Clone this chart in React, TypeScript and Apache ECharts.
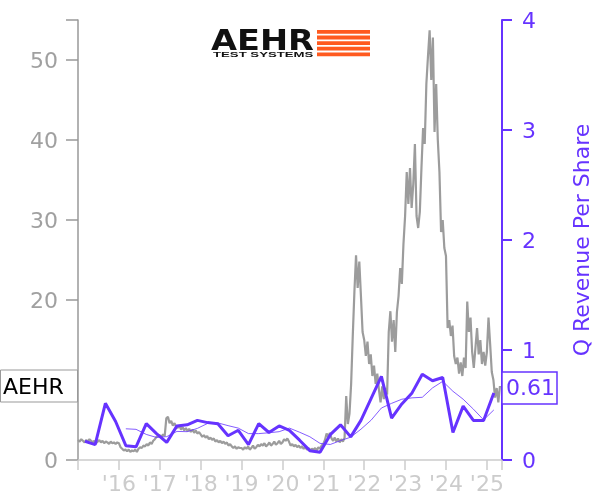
import React, { useEffect, useRef } from "react";
import * as echarts from "echarts";

// Closing price, sampled every 0.04 year, one array per calendar year
const price2015 = [2.5, 2.3, 2.6, 2.4, 2.2, 2.5, 2.3, 2.6, 2.4, 2.2, 2.4, 2.1, 2.3, 2.5, 2.2, 2.4, 2.1, 2.3, 2.2, 2.0, 2.3, 2.1, 2.2, 2.0, 2.2];
const price2016 = [2.1, 1.6, 1.4, 1.2, 1.3, 1.1, 1.3, 1.0, 1.2, 1.1, 1.3, 1.0, 1.4, 1.6, 1.5, 1.8, 1.7, 2.0, 1.8, 2.2, 2.0, 2.4, 2.6, 2.9, 3.0];
const price2017 = [3.1, 2.9, 3.2, 3.0, 5.2, 5.4, 4.6, 4.9, 4.3, 4.6, 4.2, 4.0, 4.3, 3.8, 4.1, 3.7, 4.0, 3.6, 3.9, 3.5, 3.8, 3.4, 3.7, 3.3, 3.5];
const price2018 = [3.2, 2.9, 3.1, 2.8, 3.0, 2.6, 2.8, 2.5, 2.7, 2.3, 2.5, 2.2, 2.4, 2.1, 2.3, 2.0, 2.2, 1.8, 2.0, 1.7, 1.5, 1.7, 1.4, 1.6, 1.5];
const price2019 = [1.5, 1.3, 1.6, 1.4, 1.7, 1.3, 1.5, 1.8, 1.4, 1.6, 1.9, 1.7, 2.0, 1.8, 2.1, 1.7, 1.9, 2.2, 1.8, 2.0, 2.3, 1.9, 2.1, 2.4, 2.0];
const price2020 = [2.2, 2.6, 2.4, 2.7, 2.3, 1.8, 2.0, 1.7, 1.9, 1.6, 1.8, 1.5, 1.7, 1.4, 1.6, 1.3, 1.5, 1.2, 1.4, 1.3, 1.5, 1.2, 1.6, 1.4, 1.8];
const price2021 = [2.0, 2.5, 3.3, 2.9, 3.4, 2.7, 2.4, 2.8, 2.3, 2.7, 2.2, 2.6, 2.3, 2.8, 8.0, 4.5, 5.8, 9.5, 15.5, 21.0, 25.6, 21.5, 24.8, 20.5, 16.0];
const price2022 = [15.0, 13.0, 14.8, 12.0, 13.2, 10.5, 11.8, 9.5, 10.8, 8.8, 7.2, 9.2, 7.6, 9.0, 8.2, 16.0, 18.6, 14.8, 17.5, 13.5, 18.5, 20.5, 24.0, 22.0, 27.0];
const price2023 = [30.5, 36.0, 32.0, 36.5, 31.5, 34.5, 39.5, 30.5, 29.0, 31.0, 36.5, 41.5, 39.5, 47.0, 50.5, 53.7, 47.5, 52.8, 41.0, 47.0, 40.0, 36.0, 28.5, 30.0, 26.5];
const price2024 = [25.5, 16.5, 17.5, 15.5, 16.8, 13.0, 12.0, 12.8, 10.8, 12.2, 10.5, 12.8, 11.5, 19.8, 16.0, 17.8, 13.5, 11.5, 14.0, 16.5, 13.2, 15.0, 12.0, 13.5, 11.8];
const price2025 = [13.5, 17.8, 14.5, 11.0, 10.0, 7.8, 9.0, 7.2, 9.25];
const priceYears = [2015, 2016, 2017, 2018, 2019, 2020, 2021, 2022, 2023, 2024, 2025];
const priceByYear = [price2015, price2016, price2017, price2018, price2019, price2020, price2021, price2022, price2023, price2024, price2025];
const PRICE_STEP = 0.04;

// Quarterly revenue per share, first quarter ending early 2015
const revStart = 2015.17;
const revenuePerShare = [
  0.17, 0.14, 0.515, 0.35, 0.13, 0.12, 0.33, 0.24, 0.16, 0.31,
  0.32, 0.36, 0.34, 0.33, 0.22, 0.27, 0.14, 0.33, 0.25, 0.31,
  0.27, 0.18, 0.085, 0.07, 0.23, 0.32, 0.21, 0.36, 0.56, 0.76,
  0.38, 0.51, 0.61, 0.78, 0.72, 0.75, 0.25, 0.49, 0.36, 0.36,
  0.61,
];

const xTickYears = [2016, 2017, 2018, 2019, 2020, 2021, 2022, 2023, 2024, 2025];
const leftTicks = [0, 20, 30, 40, 50]; // "10" sits under the ticker box
const rightTicks = [0, 1, 2, 3, 4];

const TICKER = "AEHR";
const PURPLE = "#6633ff";
const FONT = "DejaVu Sans";

export default function App() {
  const ref = useRef<HTMLDivElement>(null);
  useEffect(() => {
    if (!ref.current) return;
    const chart = echarts.init(ref.current, null, { renderer: "svg" });

    const priceData: number[][] = [];
    priceYears.forEach((y, k) => {
      priceByYear[k].forEach((v, i) => priceData.push([y + i * PRICE_STEP, v]));
    });
    const revData = revenuePerShare.map((v, i) => [revStart + i * 0.25, v]);
    const maData: number[][] = [];
    for (let i = 4; i < revenuePerShare.length; i++) {
      const s = revenuePerShare.slice(i - 3, i + 1).reduce((a, b) => a + b, 0) / 4;
      maData.push([revStart + i * 0.25, s]);
    }

    chart.setOption({
      animation: false,
      grid: { left: 78, right: 98, top: 20, bottom: 40 },
      xAxis: {
        type: "value",
        min: 2015,
        max: 2025.37,
        interval: 1,
        axisLine: { lineStyle: { color: "#cccccc", width: 1.5 } },
        axisTick: { length: 10, lineStyle: { color: "#cccccc", width: 1.5 } },
        splitLine: { show: false },
        axisLabel: {
          color: "#cccccc",
          fontSize: 22,
          fontFamily: FONT,
          margin: 12,
          formatter: (v: number) =>
            xTickYears.includes(v) ? "'" + String(v).slice(2) : "",
        },
      },
      yAxis: [
        {
          type: "value",
          min: 0,
          max: 55,
          interval: 10,
          position: "left",
          axisLine: { show: true, lineStyle: { color: "#999999", width: 1.5 } },
          axisTick: { show: true, length: 12, lineStyle: { color: "#999999", width: 1.5 } },
          splitLine: { show: false },
          axisLabel: {
            color: "#a0a0a0",
            fontSize: 22,
            fontFamily: FONT,
            margin: 20,
            formatter: (v: number) => (leftTicks.includes(v) ? String(v) : ""),
          },
        },
        {
          type: "value",
          min: 0,
          max: 4,
          interval: 1,
          position: "right",
          name: "Q Revenue Per Share",
          nameLocation: "middle",
          nameRotate: 90,
          nameGap: 68,
          nameTextStyle: { color: PURPLE, fontSize: 22, fontFamily: FONT },
          axisLine: { show: true, lineStyle: { color: PURPLE, width: 2 } },
          axisTick: { show: true, length: 10, lineStyle: { color: PURPLE, width: 2 } },
          splitLine: { show: false },
          axisLabel: {
            color: PURPLE,
            fontSize: 22,
            fontFamily: FONT,
            margin: 20,
            formatter: (v: number) => (rightTicks.includes(v) ? String(v) : ""),
          },
        },
      ],
      series: [
        {
          type: "line",
          name: "price",
          data: priceData,
          yAxisIndex: 0,
          showSymbol: false,
          symbol: "none",
          lineStyle: { color: "#9c9c9c", width: 2.2 },
          z: 2,
        },
        {
          type: "line",
          name: "ma",
          data: maData,
          yAxisIndex: 1,
          symbol: "none",
          lineStyle: { color: PURPLE, width: 0.8 },
          z: 3,
        },
        {
          type: "line",
          name: "rev",
          data: revData,
          yAxisIndex: 1,
          symbol: "none",
          lineStyle: { color: PURPLE, width: 3 },
          z: 4,
        },
      ],
    });

    const lastPrice = priceData[priceData.length - 1][1];
    const lastRev = revenuePerShare[revenuePerShare.length - 1];
    const py = chart.convertToPixel({ yAxisIndex: 0 }, lastPrice) as number;
    const ry = (chart.convertToPixel({ yAxisIndex: 1 }, lastRev) as number) - 5;

    const stripes = [0, 1, 2, 3, 4].map((i) => ({
      type: "rect",
      shape: { x: 317, y: 30 + i * 5.6, width: 53, height: 3.8 },
      style: { fill: "#ff5a1f" },
    }));

    chart.setOption({
      graphic: [
        {
          type: "rect",
          shape: { x: 0.5, y: py - 16, width: 77, height: 32 },
          style: { fill: "#ffffff", stroke: "#999999", lineWidth: 1 },
          z: 10,
        },
        {
          type: "text",
          x: 3,
          y: py,
          style: {
            text: TICKER,
            fill: "#000000",
            font: `22px "${FONT}"`,
            textVerticalAlign: "middle",
          },
          z: 11,
        },
        {
          type: "rect",
          shape: { x: 502, y: ry - 16, width: 55, height: 32 },
          style: { fill: "#ffffff", stroke: PURPLE, lineWidth: 1.5 },
          z: 10,
        },
        {
          type: "text",
          x: 506,
          y: ry,
          style: {
            text: lastRev.toFixed(2),
            fill: PURPLE,
            font: `22px "${FONT}"`,
            textVerticalAlign: "middle",
          },
          z: 11,
        },
        {
          type: "text",
          x: 211,
          y: 26,
          scaleX: 1.2,
          style: {
            text: "AEHR",
            fill: "#111111",
            font: `bold 28px "DejaVu Sans"`,
          },
          z: 10,
        },
        {
          type: "text",
          x: 213,
          y: 50,
          scaleX: 1.65,
          style: {
            text: "TEST SYSTEMS",
            fill: "#111111",
            font: `bold 8px "Liberation Sans"`,
          },
          z: 10,
        },
        ...stripes,
      ],
    });

    return () => chart.dispose();
  }, []);
  return (
    <div
      ref={ref}
      style={{ position: "fixed", left: 0, top: 0, width: 600, height: 500 }}
    />
  );
}
